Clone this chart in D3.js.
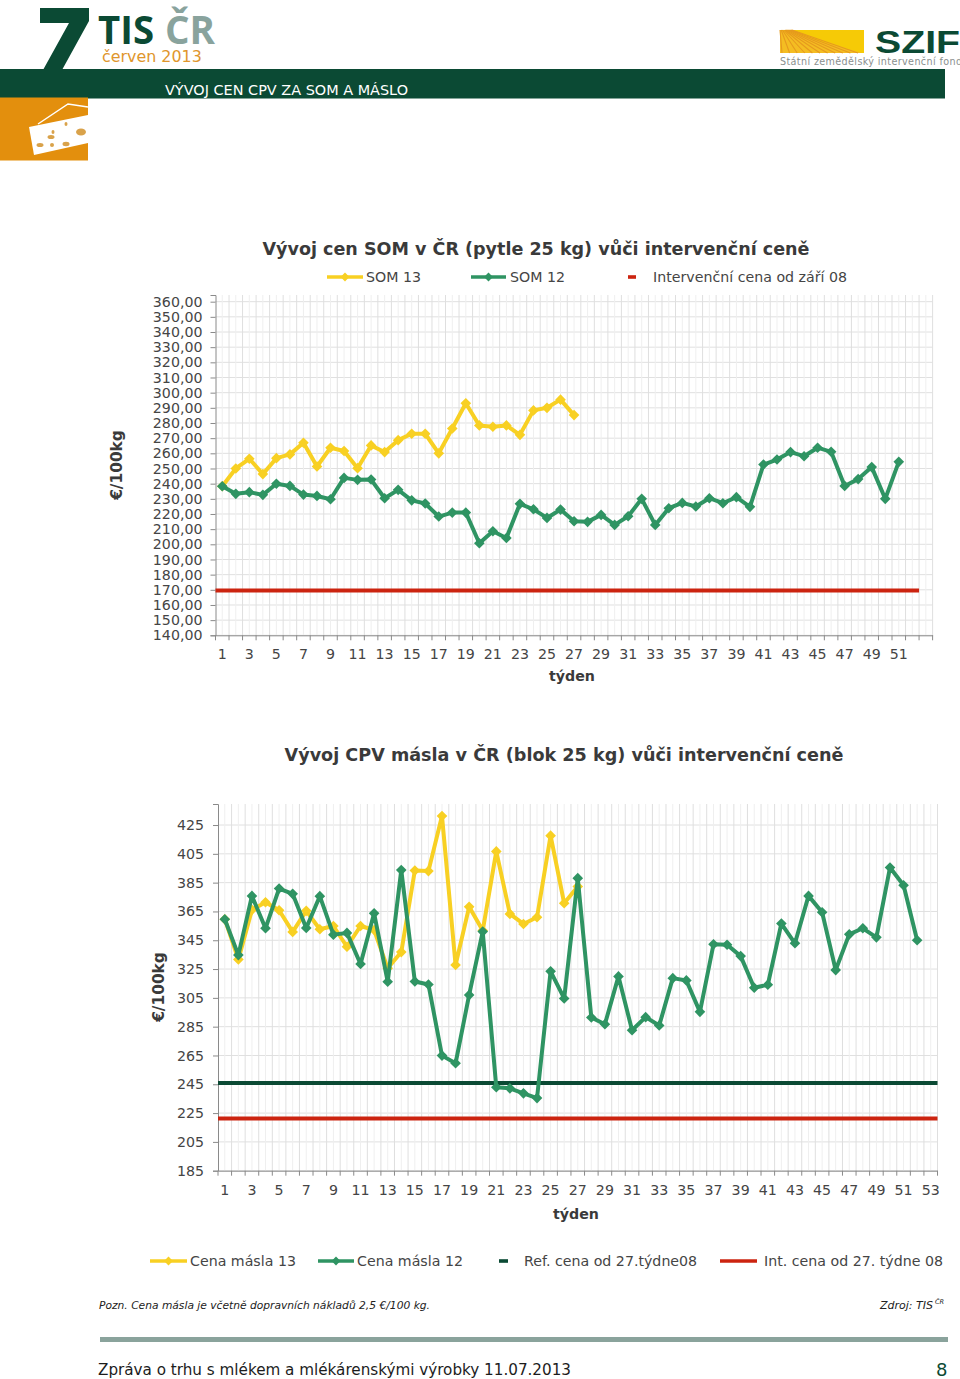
<!DOCTYPE html>
<html lang="cs">
<head>
<meta charset="utf-8">
<title>Vývoj cen CPV za SOM a máslo</title>
<script src="https://cdn.jsdelivr.net/npm/d3@7/dist/d3.min.js"></script>
<style>
html,body{margin:0;padding:0;background:#fff;overflow:hidden}
svg{display:block}
text{font-family:"DejaVu Sans",Verdana,sans-serif}
</style>
</head>
<body>
<svg id="page" width="960" height="1379" viewBox="0 0 960 1379"></svg>
<script>
// ---------- data ----------
const som13 = [238.3,250,256.4,246.3,256.8,259.3,267,251.3,263.7,261.5,250.2,265.2,260.8,268.7,272.9,272.9,260,276.4,293,278.4,277.5,278.4,272.2,288.3,290,295.4,285.2];
const som12 = [238.3,233.3,234.4,232.6,239.9,238.5,232.8,231.9,229.7,243.8,242.5,242.7,230.4,235.9,229,226.9,218.3,220.9,220.9,200.7,208.6,204.2,226.7,223.1,217.4,222.9,215.2,214.8,219.4,212.8,218.5,230,212.8,223.8,227.3,224.9,230.4,227.1,231.1,224.7,252.6,255.9,260.8,258.1,263.7,261,238.5,243,250.9,230,254.4];
const somIntervention = 169.5;
const somWeeks = d3.range(1, 54);
const somWeekLabels = d3.range(1, 52, 2);
const somTicks = d3.range(140, 361, 10);

const butter13 = [359.6,331.7,366.1,371.4,365.8,350.8,365.4,352.6,354.9,340.5,354.9,352.1,325.5,336.8,393.4,393,431.3,327.8,368.2,351.7,406.7,363.3,356.3,361,417.6,370.7,382.3];
const butter12 = [359.6,334.7,375.8,353.3,380.9,377.2,353.5,375.6,348.9,350.1,328.5,363.7,316.2,393.7,316.4,314.3,264.9,259.6,307,351,242.9,242.2,238.7,235.4,323.4,304.6,388.1,291.4,286.7,319.9,282.5,291.6,285.8,318.7,317.1,295.3,342.2,341.9,334,312,314.1,356.6,342.9,375.8,364.4,324.3,349.1,353.3,347,395.5,383.2,345];
const butterRef = 245.9;
const butterInt = 221.3;
const butterWeeks = d3.range(1, 54);
const butterWeekLabels = d3.range(1, 54, 2);
const butterTicks = d3.range(185, 426, 20);

// ---------- colours ----------
const YEL = "#f8d023", GRN = "#2f9463", RED = "#cc2410", DARK = "#0b4a34", TXT = "#454545";
const svg = d3.select("#page");

// ---------- chart drawing ----------
function drawChart(o){
  const g = svg.append("g");
  const x = d3.scaleBand().domain(o.weeks).range(o.xr);
  const y = d3.scaleLinear().domain(o.yd).range(o.yr);
  const bw = x.bandwidth();
  const gridG = g.append("g");
  gridG.append("g").selectAll("line").data(o.ticks).join("line")
    .attr("x1", o.xr[0]).attr("x2", o.xr[1])
    .attr("y1", d => y(d)).attr("y2", d => y(d))
    .attr("stroke", "#e0e0e0").attr("stroke-width", 1);
  gridG.append("g").selectAll("line").data(o.weeks).join("line")
    .attr("x1", d => x(d) + bw/2).attr("x2", d => x(d) + bw/2)
    .attr("y1", o.yr[1]).attr("y2", o.yr[0])
    .attr("stroke", "#efefef").attr("stroke-width", 1);
  gridG.append("g").selectAll("line").data(o.weeks).join("line")
    .attr("x1", d => x(d) + bw).attr("x2", d => x(d) + bw)
    .attr("y1", o.yr[1]).attr("y2", o.yr[0])
    .attr("stroke", "#dfdfdf").attr("stroke-width", 1);

  const yAxis = g.append("g").attr("transform", `translate(${o.xr[0]},0)`)
    .call(d3.axisLeft(y).tickValues(o.ticks).tickSize(5).tickPadding(o.yPad).tickFormat(o.fmt));
  const xAxis = g.append("g").attr("transform", `translate(0,${o.yr[0]})`)
    .call(d3.axisBottom(x).tickValues(o.labels).tickSize(0).tickPadding(o.xPad));
  g.append("g").selectAll("line").data(o.weeks.concat([null])).join("line")
    .attr("x1", d => d === null ? o.xr[1] : x(d)).attr("x2", d => d === null ? o.xr[1] : x(d))
    .attr("y1", o.yr[0]).attr("y2", o.yr[0] + 5)
    .attr("stroke", "#8a8a8a");
  [yAxis, xAxis].forEach(a => {
    a.selectAll("text").attr("font-size", 14.2).attr("fill", TXT).style("font-family", '"DejaVu Sans"');
    a.selectAll("path,line").attr("stroke", "#8a8a8a");
  });

  o.levels.forEach(l => {
    const line = d3.line().x(d => d[0]).y(d => y(d[1]));
    const last = o.weeks[l.count - 1];
    g.append("path").attr("fill", "none").attr("stroke", l.color).attr("stroke-width", 4)
      .attr("d", line([[x(o.weeks[0]), l.value], [x(last) + bw, l.value]]));
  });

  o.series.forEach(s => {
    const line = d3.line().x((d, i) => x(o.weeks[i]) + bw/2).y(d => y(d));
    g.append("path").datum(s.values).attr("fill", "none").attr("stroke", s.color)
      .attr("stroke-width", 4).attr("stroke-linejoin", "round").attr("d", line);
    g.append("g").selectAll("path").data(s.values).join("path")
      .attr("d", d3.symbol(d3.symbolDiamond2 || d3.symbolDiamond, 72))
      .attr("fill", s.color)
      .attr("transform", (d, i) => `translate(${x(o.weeks[i]) + bw/2},${y(d)})`);
  });

  g.append("text").attr("x", o.titleX).attr("y", o.titleY).attr("text-anchor", "middle")
    .attr("font-size", o.titleSize).attr("font-weight", "bold").attr("fill", "#3a3a3a").text(o.title);
  g.append("text").attr("x", o.xTitleX).attr("y", o.xTitleY).attr("text-anchor", "middle")
    .attr("font-size", 14.2).attr("font-weight", "bold").attr("fill", "#3a3a3a").text("týden");
  g.append("text").attr("transform", `translate(${o.yTitleX},${o.yTitleY}) rotate(-90)`).attr("text-anchor", "middle")
    .attr("font-size", 15.4).attr("font-weight", "bold").attr("fill", "#3a3a3a").text("€/100kg");
}

function legendItem(x1, x2, yy, color, marker, label, tx){
  svg.append("line").attr("x1", x1).attr("x2", x2).attr("y1", yy).attr("y2", yy)
    .attr("stroke", color).attr("stroke-width", marker ? 3.4 : 3.6);
  if (marker) svg.append("path").attr("d", d3.symbol(d3.symbolDiamond2 || d3.symbolDiamond, 50))
    .attr("fill", color).attr("transform", `translate(${(x1+x2)/2},${yy})`);
  svg.append("text").attr("x", tx).attr("y", yy + 5).attr("font-size", 14.2).attr("fill", TXT).text(label);
}

// ---------- header ----------
const head = svg.append("g");
head.append("path").attr("fill", DARK).attr("d", "M40 8H89V21L62 70H43L69 23H40Z");
head.append("rect").attr("x", 0).attr("y", 69).attr("width", 945).attr("height", 29.5).attr("fill", DARK);
head.append("rect").attr("x", 0).attr("y", 97.5).attr("width", 88).attr("height", 63).attr("fill", "#e38f0d");
head.append("text").attr("x", 98).attr("y", 44).style("font-family", '"Open Sans"').attr("font-weight", 700)
  .attr("font-size", 39).attr("fill", DARK).attr("textLength", 56).attr("lengthAdjust", "spacingAndGlyphs").text("TIS");
head.append("text").attr("x", 165).attr("y", 44).style("font-family", '"Open Sans"').attr("font-weight", 700)
  .attr("font-size", 39).attr("fill", "#89a39d").attr("textLength", 50).attr("lengthAdjust", "spacingAndGlyphs").text("ČR");
head.append("text").attr("x", 102).attr("y", 62).attr("font-size", 15.9).attr("fill", "#e0962c").text("červen 2013");
head.append("text").attr("x", 165).attr("y", 95).attr("font-size", 14).attr("fill", "#ffffff")
  .attr("textLength", 243).attr("lengthAdjust", "spacingAndGlyphs").text("VÝVOJ CEN CPV ZA SOM A MÁSLO");
// cheese
head.append("path").attr("fill", "#fff").attr("d", "M29 127L88 115V143L34 155Z");
head.append("path").attr("fill", "none").attr("stroke", "#fff").attr("stroke-width", 1.5).attr("d", "M38 124L68 104L88 107");
[[81,132,5,3.5],[51,137,3.5,2],[53,132,1.5,2],[40,145,3.5,2],[52,145,2,2],[66,144,3.5,2.2],[66,124,1.5,2]].forEach(h =>
  head.append("ellipse").attr("cx", h[0]).attr("cy", h[1]).attr("rx", h[2]).attr("ry", h[3]).attr("fill", "#d9a24a"));
// SZIF logo
head.append("rect").attr("x", 780).attr("y", 30).attr("width", 84).attr("height", 23).attr("fill", "#f6ca06");
head.append("path").attr("fill", "#f4bd22").attr("d", "M780 30L862 53H780Z");
d3.range(0, 11).forEach(i => head.append("line").attr("x1", 780 + i * 1.2).attr("y1", 30)
  .attr("x2", 782 + i * 7.6).attr("y2", 53).attr("stroke", "#e69a1e").attr("stroke-width", 1.1));
head.append("text").attr("x", 875).attr("y", 53).style("font-family", '"Liberation Sans"').attr("font-weight", 700)
  .attr("font-size", 32).attr("fill", DARK).attr("textLength", 85).attr("lengthAdjust", "spacingAndGlyphs").text("SZIF");
head.append("text").attr("x", 780).attr("y", 65).attr("font-size", 9.6).attr("fill", "#8a8f8e")
  .attr("textLength", 182).attr("lengthAdjust", "spacing").text("Státní zemědělský intervenční fond");

// ---------- chart 1 ----------
const fmt2 = d => d3.format(".2f")(d).replace(".", ",");
drawChart({
  weeks: somWeeks, labels: somWeekLabels, xr: [215.5, 932.6], yd: [140, 364.4], yr: [635.3, 295], ticks: somTicks, fmt: fmt2, yPad: 8, xPad: 13.7,
  levels: [{value: somIntervention, color: RED, count: 52}],
  series: [{values: som13, color: YEL}, {values: som12, color: GRN}],
  title: "Vývoj cen SOM v ČR (pytle 25 kg) vůči intervenční ceně", titleX: 536, titleY: 255, titleSize: 17.55,
  xTitleX: 572, xTitleY: 681, yTitleX: 122, yTitleY: 465
});
legendItem(327, 363, 277, YEL, true, "SOM 13", 366);
legendItem(471, 506, 277, GRN, true, "SOM 12", 510);
legendItem(628, 636, 277, RED, false, "Intervenční cena od září 08", 653);

// ---------- chart 2 ----------
drawChart({
  weeks: butterWeeks, labels: butterWeekLabels, xr: [218, 937.5], yd: [185, 439.6], yr: [1170.7, 804], ticks: butterTicks, fmt: d => d, yPad: 9, xPad: 14.3,
  levels: [{value: butterRef, color: DARK, count: 53}, {value: butterInt, color: RED, count: 53}],
  series: [{values: butter13, color: YEL}, {values: butter12, color: GRN}],
  title: "Vývoj CPV másla v ČR (blok 25 kg) vůči intervenční ceně", titleX: 564, titleY: 761, titleSize: 17.6,
  xTitleX: 576, xTitleY: 1219, yTitleX: 164, yTitleY: 987
});
legendItem(150, 187, 1261, YEL, true, "Cena másla 13", 190);
legendItem(318, 354, 1261, GRN, true, "Cena másla 12", 357);
legendItem(499, 508, 1261, DARK, false, "Ref. cena od 27.týdne08", 524);
legendItem(720, 757, 1261, RED, false, "Int. cena od 27. týdne 08", 764);

// ---------- footer ----------
const foot = svg.append("g");
foot.append("text").attr("x", 99).attr("y", 1309).attr("font-size", 11).attr("font-style", "italic").attr("fill", "#222")
  .attr("textLength", 331).attr("lengthAdjust", "spacingAndGlyphs").text("Pozn. Cena másla je včetně dopravních nákladů 2,5 €/100 kg.");
foot.append("text").attr("x", 880).attr("y", 1309).attr("font-size", 11).attr("font-style", "italic").attr("fill", "#222").text("Zdroj: TIS");
foot.append("text").attr("x", 935).attr("y", 1304).attr("font-size", 6.5).attr("font-style", "italic").attr("fill", "#222").text("ČR");
foot.append("rect").attr("x", 100).attr("y", 1337).attr("width", 848).attr("height", 5).attr("fill", "#8aa39c");
foot.append("text").attr("x", 98).attr("y", 1375).attr("font-size", 16).attr("fill", "#1c1c1c")
  .attr("textLength", 473).attr("lengthAdjust", "spacingAndGlyphs").text("Zpráva o trhu s mlékem a mlékárenskými výrobky 11.07.2013");
foot.append("text").attr("x", 936).attr("y", 1376).attr("font-size", 18).attr("fill", DARK).text("8");
</script>
</body>
</html>
